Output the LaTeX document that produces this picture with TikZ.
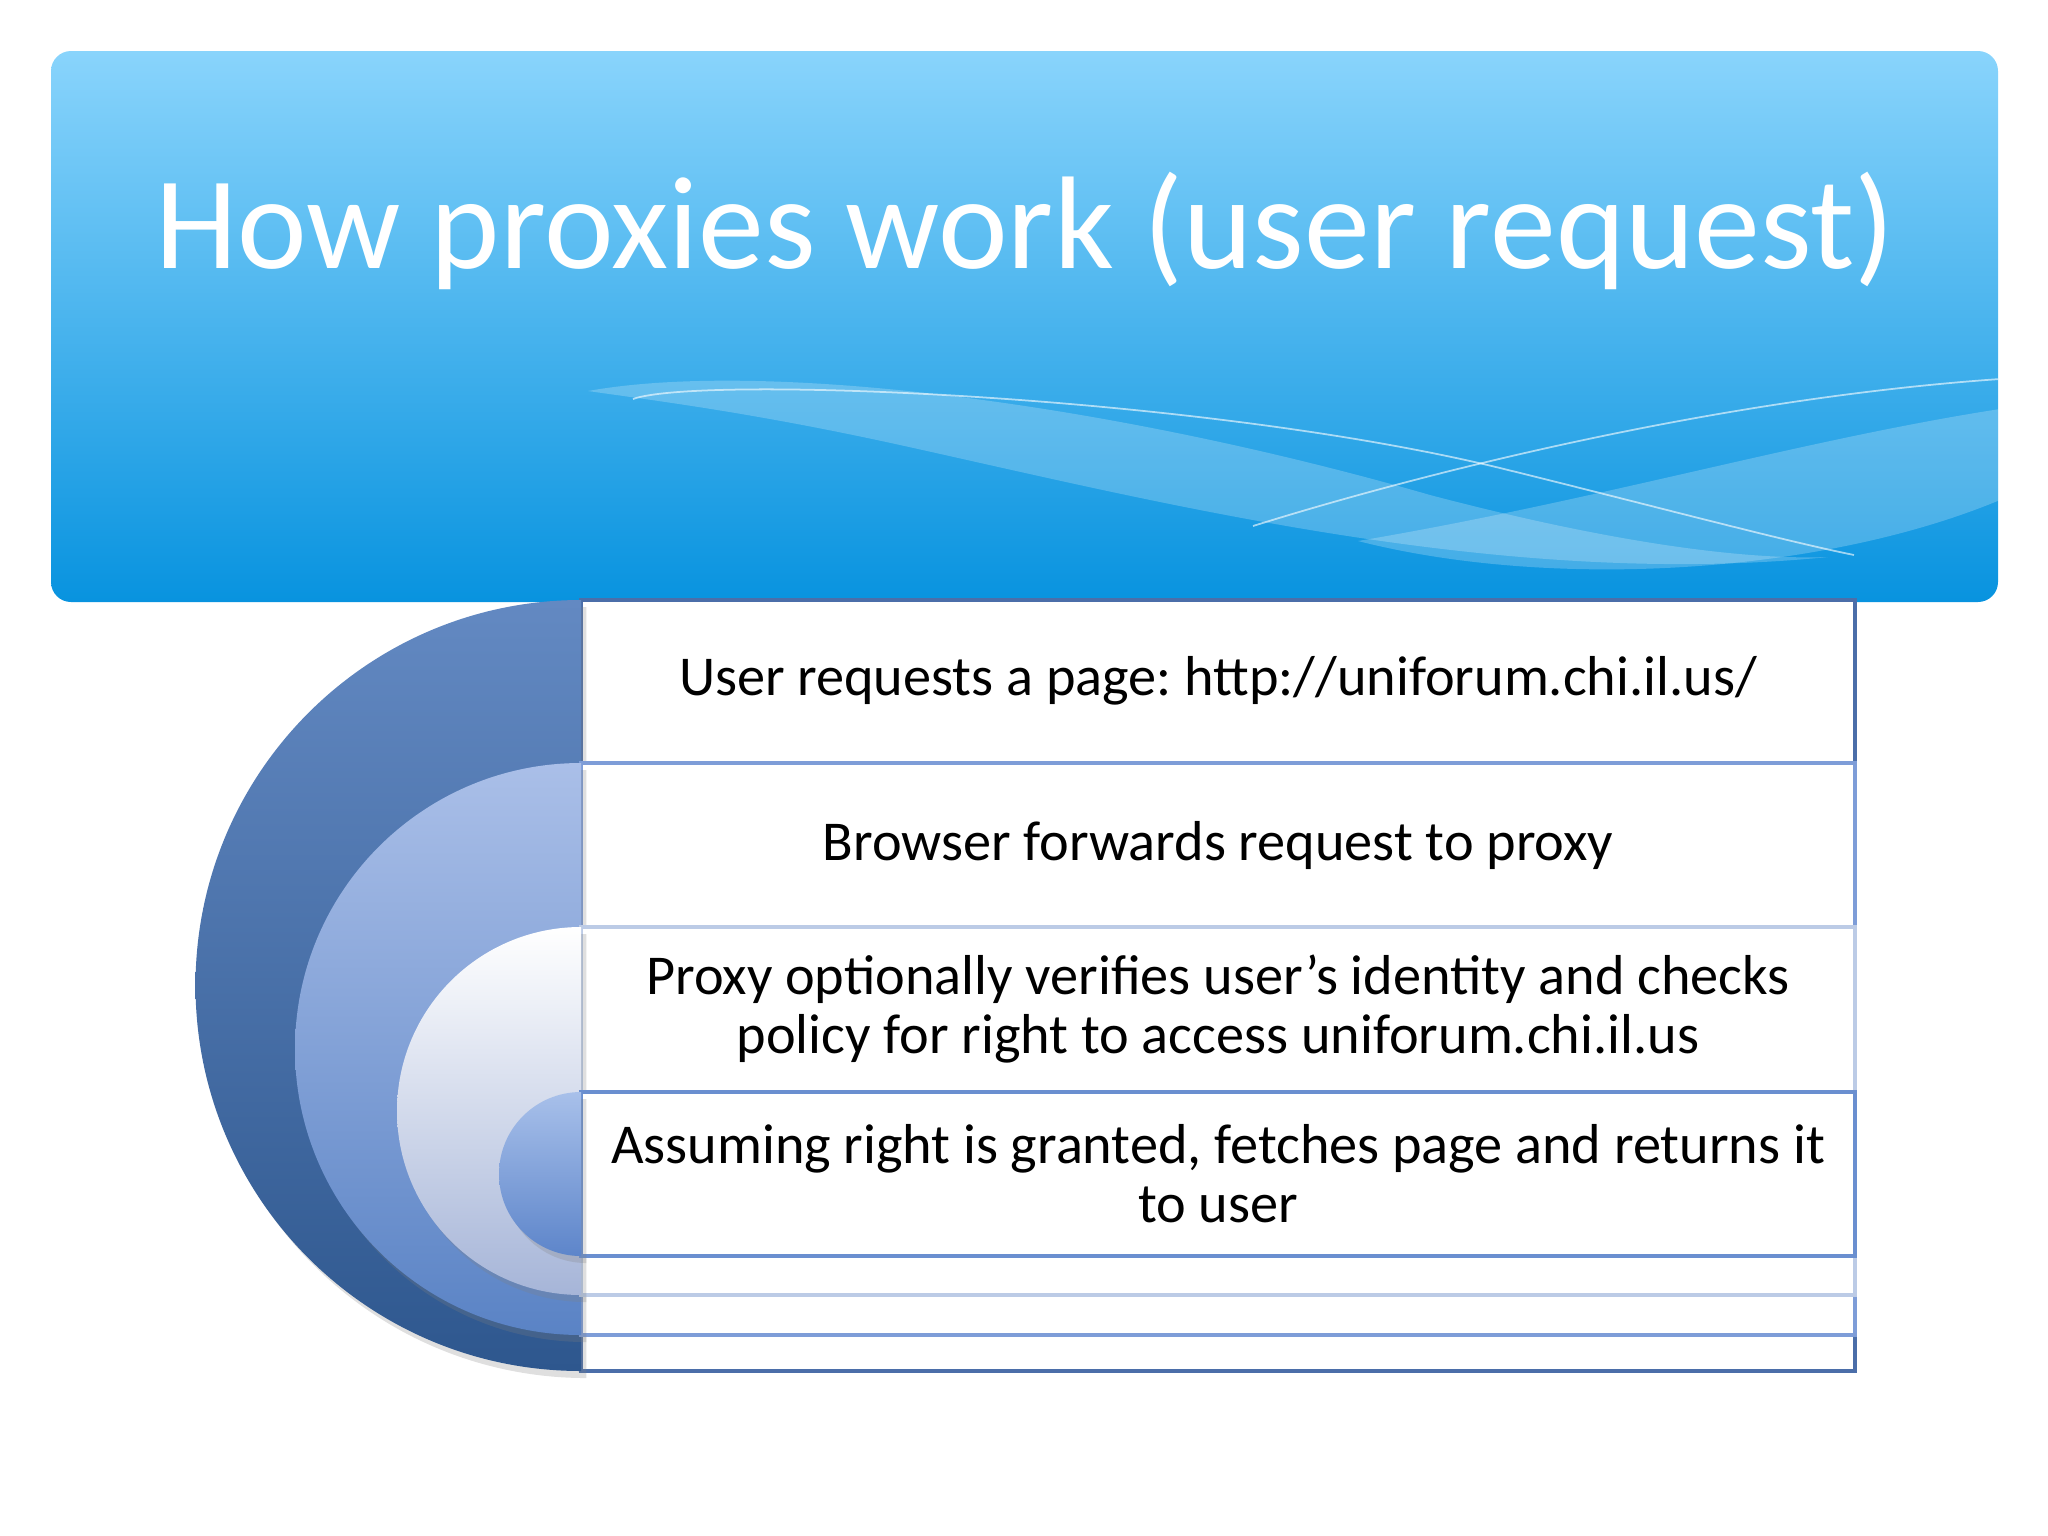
\documentclass[tikz,border=0pt]{standalone}
\usepackage{fontspec}
\setmainfont{Carlito}
\usetikzlibrary{shadows}
\frenchspacing

\definecolor{skytop}{HTML}{89D4FC}
\definecolor{skybot}{HTML}{0893DF}
\definecolor{rimA}{HTML}{4B6EA9}
\definecolor{rimB}{HTML}{7E9DD8}
\definecolor{rimC}{HTML}{BCCBE6}
\definecolor{rimD}{HTML}{6A8FD0}
\definecolor{discAhi}{HTML}{6389C2}
\definecolor{discAlo}{HTML}{2E578E}
\definecolor{discBhi}{HTML}{AABFE8}
\definecolor{discBlo}{HTML}{5A83C5}
\definecolor{discChi}{HTML}{FFFFFF}
\definecolor{discClo}{HTML}{A6B5D8}
\definecolor{discDhi}{HTML}{A8C0EA}
\definecolor{discDlo}{HTML}{5D85CA}

\begin{document}
\begin{tikzpicture}[x=0.01cm,y=-0.01cm,
  rowtext/.style={font=\fontsize{16}{16.8}\selectfont, align=center, text=black},
  wave/.style={fill=white, opacity=0.22},
  waveline/.style={draw=white, opacity=0.6, line width=0.5pt},
  discshadow/.style={drop shadow={opacity=0.25, shadow xshift=1.5pt, shadow yshift=-2pt}}]
\useasboundingbox (0,0) rectangle (2048,1536);

% header band
\shade[top color=skytop, bottom color=skybot, rounded corners=0.2cm] (51,51) rectangle (1998,602);
\begin{scope}
\clip[rounded corners=0.2cm] (51,51) rectangle (1998,602);
\fill[wave] (588,391) .. controls (760,360) and (1100,400) .. (1430,495)
  .. controls (1620,545) and (1750,560) .. (1828,557)
  .. controls (1500,590) and (1150,500) .. (900,445)
  .. controls (750,412) and (650,400) .. (588,391);
\fill[wave] (2000,409) .. controls (1800,440) and (1600,500) .. (1358,541)
  .. controls (1550,590) and (1820,575) .. (2000,500) -- cycle;
\draw[waveline] (633,399) .. controls (700,375) and (1200,395) .. (1500,468)
  .. controls (1650,505) and (1780,540) .. (1854,555);
\draw[waveline] (1253,526) .. controls (1400,480) and (1700,400) .. (2000,379);
\end{scope}
\node[font=\fontsize{37.5}{40}\selectfont, text=white, anchor=base] (title) at (1025,268) {How proxies work (user request)};

% nested half discs with their boxes
\foreach \ya/\yb/\rim/\hi/\lo in
{600/1371/rimA/discAhi/discAlo, 763/1335/rimB/discBhi/discBlo,
 927/1295/rimC/discChi/discClo, 1092/1256/rimD/discDhi/discDlo}
{
\pgfmathsetmacro\rad{(\yb-\ya)/2}
\filldraw[fill=white, draw=\rim, line width=1pt] (581,\ya) rectangle (1855,\yb);
\path[discshadow, top color=\hi, bottom color=\lo] (581,\ya) arc[start angle=-90, end angle=-270, radius=\rad] -- cycle;
}

\node[rowtext] (req) at (1218,681) {User requests a page: http://uniforum.chi.il.us/};
\node[rowtext] (fwd) at (1218,845) {Browser forwards request to proxy};
\node[rowtext] (verify) at (1218,1009) {Proxy optionally verifies user’s identity and checks\\policy for right to access uniforum.chi.il.us};
\node[rowtext] (fetch) at (1218,1174) {Assuming right is granted, fetches page and returns it\\to user};
\end{tikzpicture}
\end{document}
